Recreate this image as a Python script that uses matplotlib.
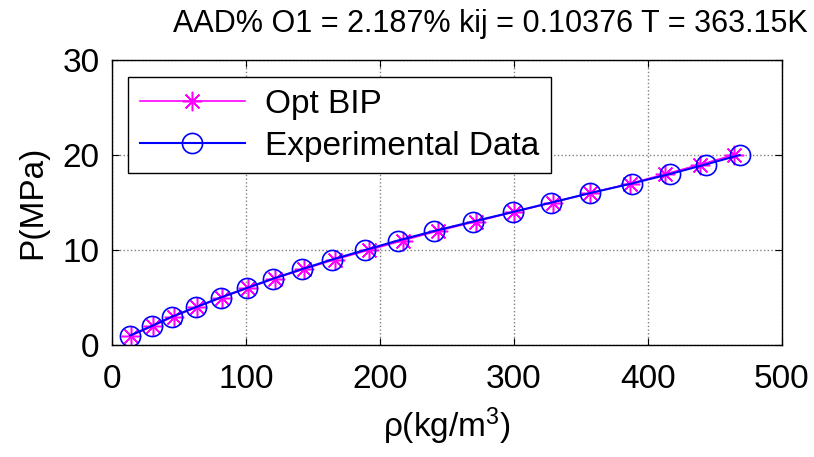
import numpy as np
import matplotlib.pyplot as plt

plt.rcParams['font.family'] = ['Liberation Sans', 'DejaVu Sans']
plt.rcParams['mathtext.fontset'] = 'custom'
plt.rcParams['mathtext.rm'] = 'Liberation Sans'
plt.rcParams['mathtext.default'] = 'regular'

# Presion (MPa)
presion = np.array([1, 2, 3, 4, 5, 6, 7, 8, 9, 10,
                    11, 12, 13, 14, 15, 16, 17, 18, 19, 20])
# Densidad experimental (kg/m3)
rho_exp = np.array([13.4, 29.6, 45.0, 62.7, 81.0, 100.5, 120.4, 142.0, 164.2, 188.8,
                    213.4, 240.3, 269.4, 299.0, 328.0, 357.0, 388.0, 416.4, 443.0, 468.5])
# Densidad con el BIP optimo (kg/m3)
rho_opt = np.array([14.5, 30.5, 46.0, 63.5, 82.0, 101.5, 121.5, 143.5, 166.4, 191.8,
                    217.0, 243.0, 271.6, 300.0, 329.0, 357.0, 386.6, 413.0, 439.0, 464.0])

fig = plt.figure(figsize=(8.14, 4.57), dpi=100)
ax = fig.add_axes([0.1376, 0.245, 0.823, 0.6237])

asterisco = (8, 2, 0)  # asterisco estilo MATLAB
ax.plot(rho_opt, presion, '-', marker=asterisco, color='magenta', lw=1.2, ms=14, mew=1.1,
        label='Opt BIP')
ax.plot(rho_exp, presion, '-o', color='blue', lw=1.5, ms=14.5, mew=1.2,
        mfc='none', label='Experimental Data')

ax.set_xlim(0, 500)
ax.set_ylim(0, 30)
ax.set_xticks([0, 100, 200, 300, 400, 500])
ax.set_yticks([0, 10, 20, 30])
ax.tick_params(direction='in', length=5, labelsize=24, top=True, right=True)
ax.tick_params(axis='x', pad=14)
ax.tick_params(axis='y', pad=9)
ax.grid(True, linestyle=':', color='#808080', lw=1)
for s in ax.spines.values():
    s.set_linewidth(1)

ax.set_xlabel('ρ(kg/m$^3$)', fontsize=24, labelpad=7)
ax.set_ylabel('P(MPa)', fontsize=24, labelpad=10)
ax.set_title('AAD% O1 = 2.187% kij = 0.10376 T = 363.15K', fontsize=22, pad=20,
             x=0.565)

leg = ax.legend(loc='upper left', bbox_to_anchor=(0.024, 0.94), borderaxespad=0,
                fontsize=24, fancybox=False, edgecolor='black', framealpha=1,
                handlelength=3.15, borderpad=0.35, labelspacing=0.33,
                handletextpad=0.6)
leg.get_frame().set_linewidth(1)

fig.savefig('out.png', dpi=100)
